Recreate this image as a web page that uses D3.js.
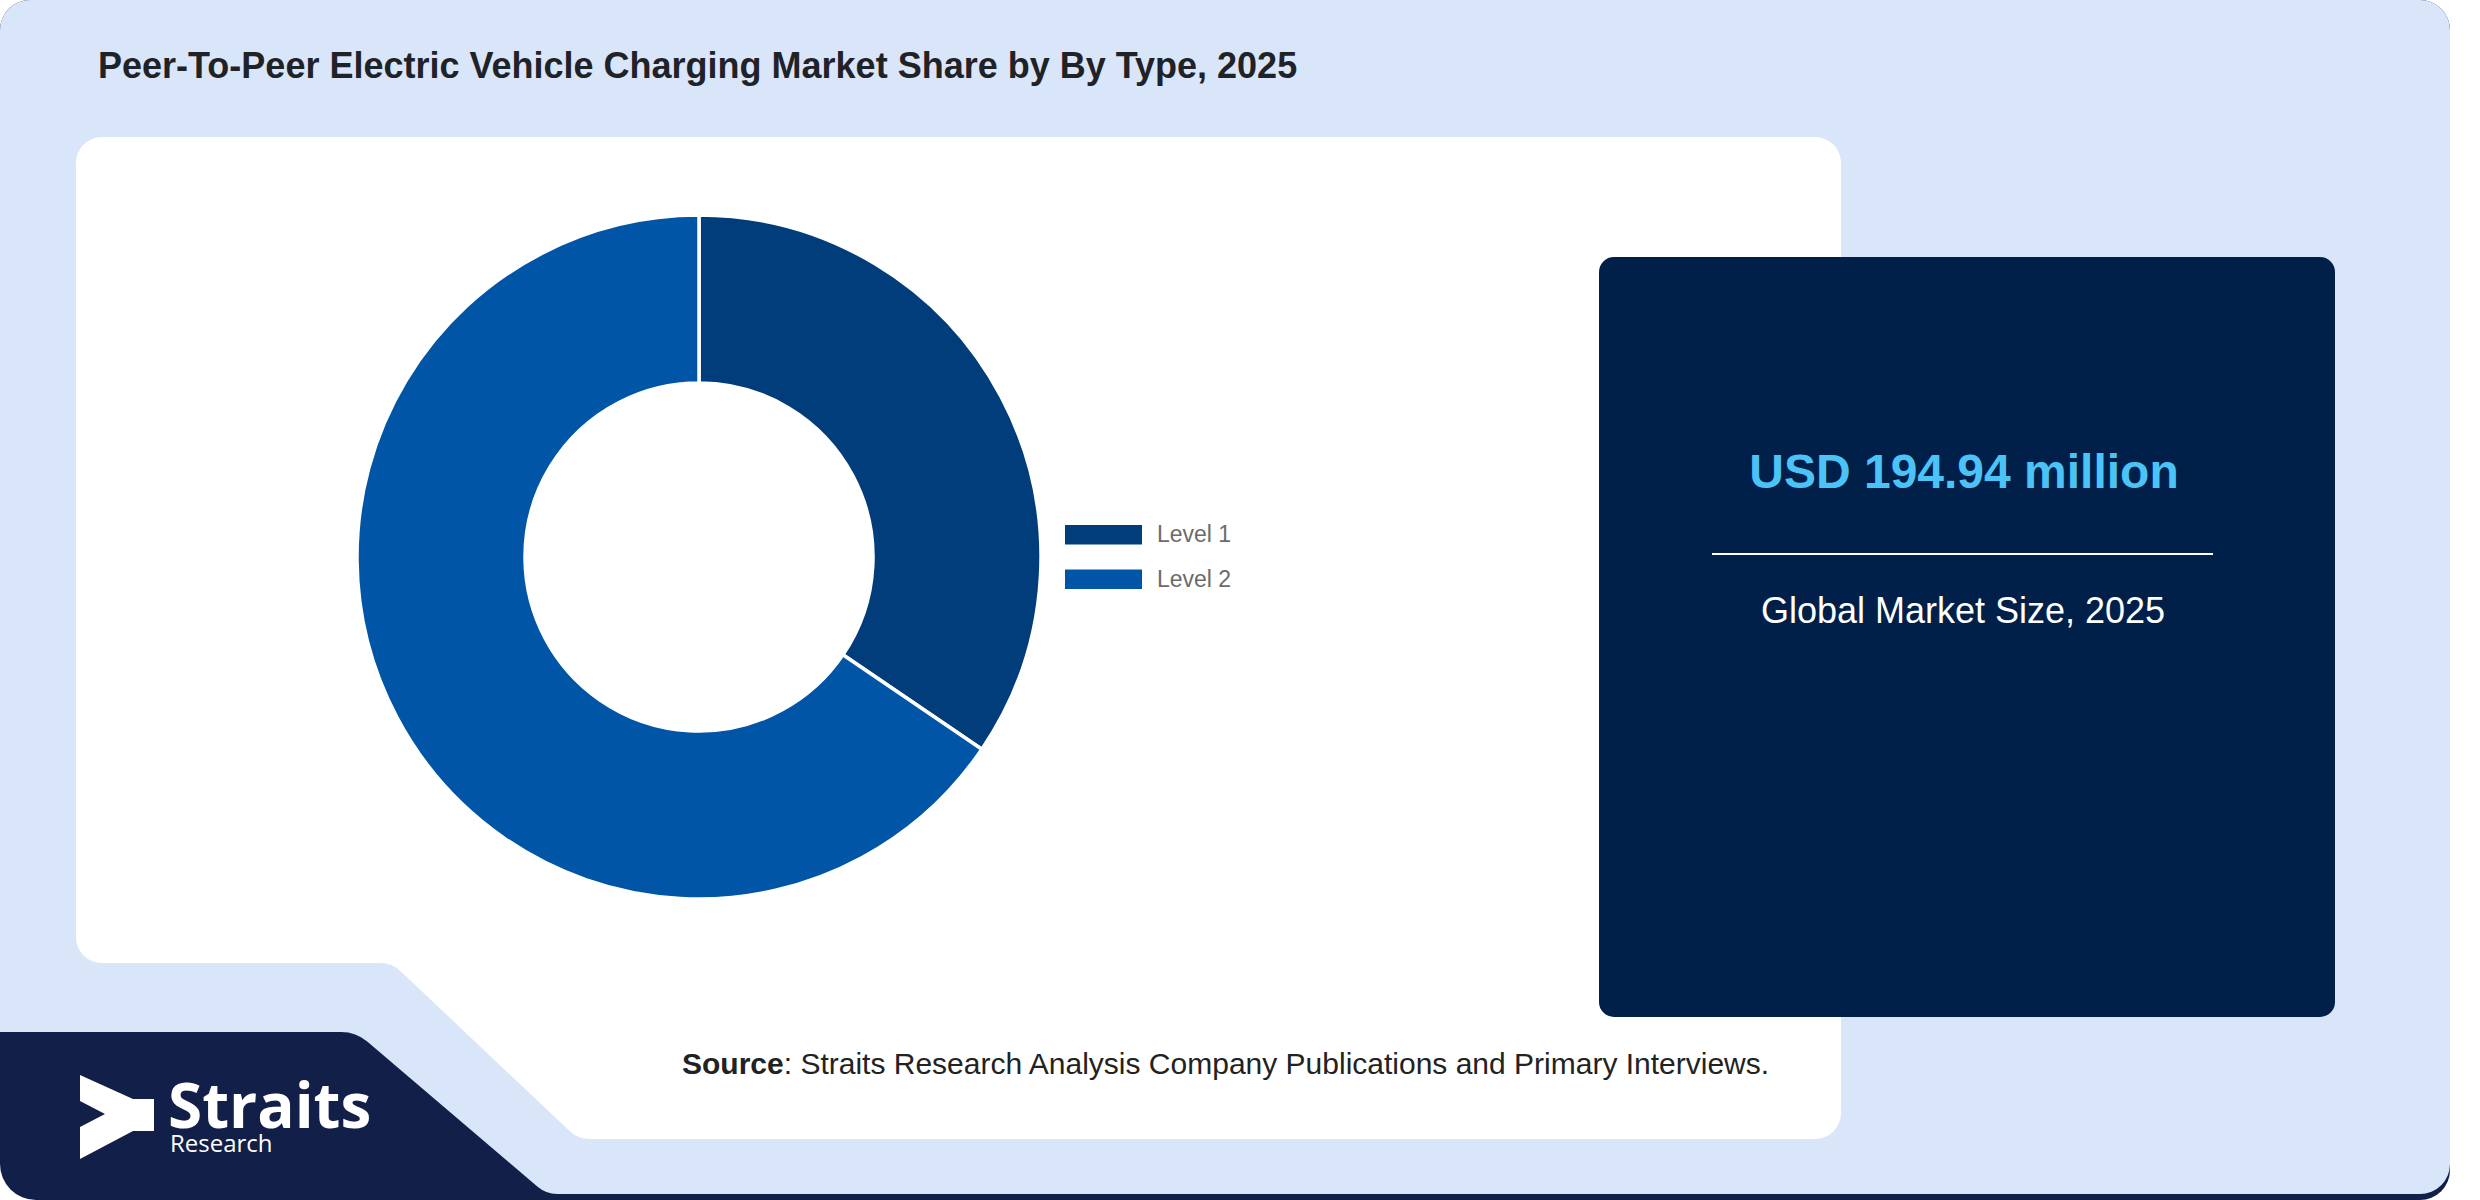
<!DOCTYPE html>
<html>
<head>
<meta charset="utf-8">
<script src="https://cdn.jsdelivr.net/npm/d3@7"></script>
<style>
  body { margin: 0; background: #ffffff; }
  svg { display: block; }
</style>
</head>
<body>
<script>
// Chart data
var categories = ["Level 1", "Level 2"];
var shares = [34.5, 65.5];
var sliceColors = ["#023d7b", "#0055a7"];

var title = "Peer-To-Peer Electric Vehicle Charging Market Share by By Type, 2025";
var marketValue = "USD 194.94 million";
var marketLabel = "Global Market Size, 2025";

// Canvas size
var width = 2480,
    height = 1200;

var svg = d3.select("body").append("svg")
    .attr("width", width)
    .attr("height", height);

// Polygon with rounded corners, r per vertex
function roundedPoly(points, radii) {
  var p = d3.path();
  var n = points.length;
  var last = points[n - 1], first = points[0];
  p.moveTo((last[0] + first[0]) / 2, (last[1] + first[1]) / 2);
  for (var i = 0; i < n; i++) {
    var cur = points[i], next = points[(i + 1) % n];
    p.arcTo(cur[0], cur[1], next[0], next[1], radii[i]);
  }
  p.closePath();
  return p.toString();
}

// Navy base (shows at the logo corner and along the bottom)
svg.append("path")
    .attr("d", roundedPoly([[0, 0], [2450, 0], [2450, 1200], [0, 1200]], [30, 30, 30, 36]))
    .attr("fill", "#121f48");

// Light blue card
svg.append("path")
    .attr("d", roundedPoly([[0, 0], [2450, 0], [2450, 1194], [546, 1194], [356, 1032], [0, 1032]], [30, 30, 30, 30, 40, 0]))
    .attr("fill", "#d9e6f9");

// White chart panel
svg.append("path")
    .attr("d", roundedPoly([[76, 137], [1841, 137], [1841, 1139], [578, 1139], [392, 963], [76, 963]], [26, 26, 26, 28, 30, 26]))
    .attr("fill", "#ffffff");

// Title
svg.append("text")
    .attr("x", 98)
    .attr("y", 78)
    .attr("font-family", "'Liberation Sans', Arial, sans-serif")
    .attr("font-weight", "bold")
    .attr("font-size", 36)
    .attr("fill", "#1f2328")
    .text(title);

// Donut
var cx = 699, cy = 557;
var pie = d3.pie().sort(null).value(function(d) { return d; });
var arc = d3.arc().innerRadius(174).outerRadius(342);

var donut = svg.append("g")
    .attr("transform", "translate(" + cx + "," + cy + ")");

donut.selectAll("path")
    .data(pie(shares))
    .enter()
    .append("path")
    .attr("d", arc)
    .attr("fill", function(d, i) { return sliceColors[i]; })
    .attr("stroke", "#ffffff")
    .attr("stroke-width", 3.5);

// Legend
var legend = svg.append("g")
    .attr("transform", "translate(1065,525)");

var item = legend.selectAll("g")
    .data(categories)
    .enter()
    .append("g")
    .attr("transform", function(d, i) { return "translate(0," + (i * 44.5) + ")"; });

item.append("rect")
    .attr("width", 77)
    .attr("height", 19.5)
    .attr("fill", function(d, i) { return sliceColors[i]; });

item.append("text")
    .attr("x", 92)
    .attr("y", 17)
    .attr("font-family", "'Liberation Sans', Arial, sans-serif")
    .attr("font-size", 23)
    .attr("fill", "#6b6b6b")
    .text(function(d) { return d; });

// Market size box
var box = { x: 1599, y: 257, w: 736, h: 760 };
svg.append("rect")
    .attr("x", box.x)
    .attr("y", box.y)
    .attr("width", box.w)
    .attr("height", box.h)
    .attr("rx", 15)
    .attr("fill", "#001f49");

var boxCx = box.x + box.w / 2;

svg.append("text")
    .attr("x", boxCx - 3)
    .attr("y", 488)
    .attr("text-anchor", "middle")
    .attr("font-family", "'Liberation Sans', Arial, sans-serif")
    .attr("font-weight", "bold")
    .attr("font-size", 48)
    .attr("fill", "#4cc3f6")
    .text(marketValue);

svg.append("line")
    .attr("x1", 1712)
    .attr("x2", 2213)
    .attr("y1", 554)
    .attr("y2", 554)
    .attr("stroke", "#ffffff")
    .attr("stroke-width", 2);

svg.append("text")
    .attr("x", boxCx - 4)
    .attr("y", 623)
    .attr("text-anchor", "middle")
    .attr("font-family", "'Liberation Sans', Arial, sans-serif")
    .attr("font-size", 36)
    .attr("fill", "#ffffff")
    .text(marketLabel);

// Source line
var source = svg.append("text")
    .attr("x", 682)
    .attr("y", 1074)
    .attr("font-family", "'Liberation Sans', Arial, sans-serif")
    .attr("font-size", 30)
    .attr("fill", "#222222");
source.append("tspan").attr("font-weight", "bold").text("Source");
source.append("tspan").text(": Straits Research Analysis Company Publications and Primary Interviews.");

// Logo
svg.append("path")
    .attr("d", "M80,1075 L133,1099 L154,1099 L154,1131 L133,1131 L80,1159 L80,1127 L105,1114 L80,1101 Z")
    .attr("fill", "#ffffff");

var logo = svg.append("text")
    .attr("font-family", "'Open Sans', sans-serif")
    .attr("fill", "#ffffff");
logo.append("tspan")
    .attr("x", 168)
    .attr("y", 1128)
    .attr("font-weight", "bold")
    .attr("font-size", 62)
    .text("Straits");
logo.append("tspan")
    .attr("x", 170)
    .attr("y", 1152)
    .attr("font-size", 24)
    .text("Research");
</script>
</body>
</html>
